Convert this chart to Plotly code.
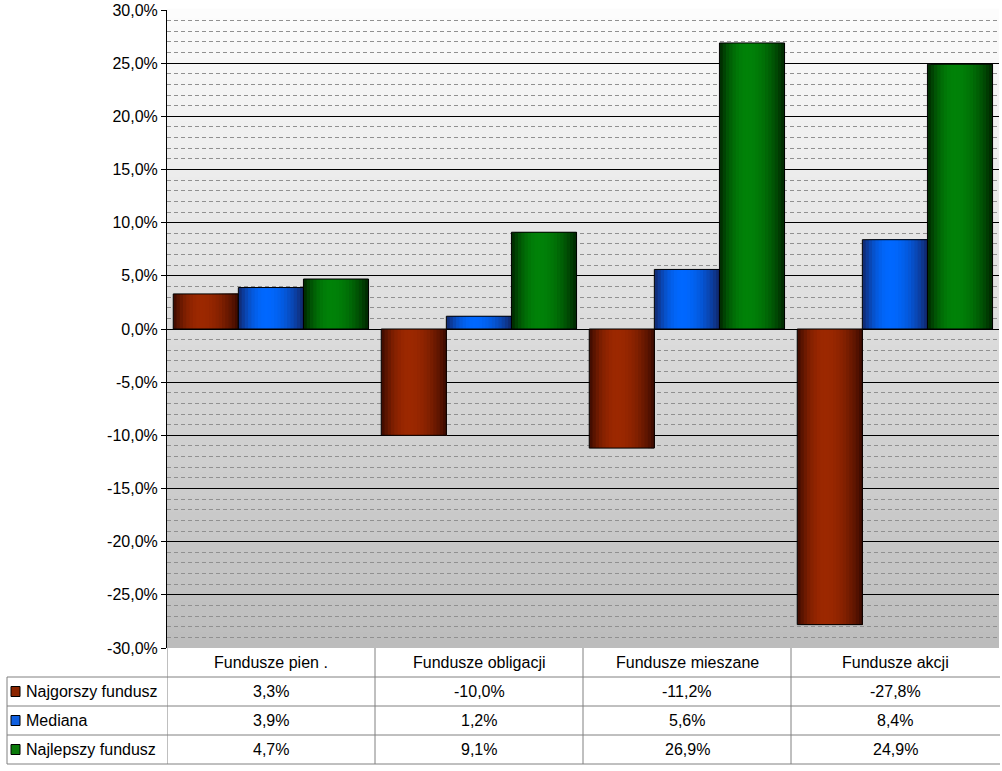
import plotly.graph_objects as go

categories = ["Fundusze pien .", "Fundusze obligacji", "Fundusze mieszane", "Fundusze akcji"]
series_names = ["Najgorszy fundusz", "Mediana", "Najlepszy fundusz"]
najgorszy = [3.3, -10.0, -11.2, -27.8]
mediana = [3.9, 1.2, 5.6, 8.4]
najlepszy = [4.7, 9.1, 26.9, 24.9]
series_values = [najgorszy, mediana, najlepszy]
tick_values = list(range(-30, 31, 5))
tick_labels = [("%.1f%%" % v).replace(".", ",") for v in tick_values]

# colours: (edge, centre)
series_colors = [
    ((58, 10, 0), (156, 40, 0)),
    ((18, 38, 105), (0, 104, 255)),
    ((0, 36, 0), (0, 130, 8)),
]
legend_colors = ["#8b2500", "#1060e0", "#0a7a0a"]

W, H = 1002, 771
L, R, T, B = 167, 3, 10, 123

fig = go.Figure()
x_idx = list(range(len(categories)))

bar_w = 0.313
start = -0.47
S = 20


def mix(a, b, f):
    return "rgb(%d,%d,%d)" % tuple(round(a[i] + (b[i] - a[i]) * f) for i in range(3))


def profile(t):
    p = 0.42
    if t < p:
        u = t / p
        return 1 - (1 - u) ** 2
    u = (t - p) / (1 - p)
    return 1 - u ** 2


for si, vals in enumerate(series_values):
    edge, centre = series_colors[si]
    base = start + si * bar_w
    for k in range(S):
        t = (k + 0.5) / S
        fig.add_trace(go.Bar(
            x=x_idx, y=vals,
            offset=base + k * bar_w / S, width=bar_w - k * bar_w / S,
            marker=dict(color=mix(edge, centre, profile(t)), line=dict(width=0)),
            showlegend=False, hoverinfo="skip",
        ))
    fig.add_trace(go.Bar(
        x=x_idx, y=vals, offset=base, width=bar_w, name=series_names[si],
        marker=dict(color="rgba(0,0,0,0)", line=dict(color="black", width=1)),
        showlegend=False,
    ))

shapes = []
# background gradient
N = 80
top_c = (252, 252, 252)
bot_c = (188, 188, 188)
for i in range(N):
    shapes.append(dict(type="rect", xref="x domain", yref="y domain",
                       x0=0, x1=1, y0=i / N, y1=(i + 1) / N + 0.002,
                       fillcolor=mix(bot_c, top_c, (i + 0.5) / N),
                       line=dict(width=0), layer="below"))

row_h = 29
grid_col = "#808080"
# table horizontal lines
for r in range(1, 5):
    shapes.append(dict(type="line", xref="paper", yref="paper",
                       xsizemode="pixel", ysizemode="pixel", xanchor=0, yanchor=0,
                       x0=-160, x1=833, y0=-r * row_h, y1=-r * row_h,
                       line=dict(color=grid_col, width=1)))
# left border of legend column
shapes.append(dict(type="line", xref="paper", yref="paper",
                   xsizemode="pixel", ysizemode="pixel", xanchor=0, yanchor=0,
                   x0=-160, x1=-160, y0=-row_h, y1=-4 * row_h,
                   line=dict(color=grid_col, width=1)))
# column separators
for xv in [-0.5, 0.5, 1.5, 2.5]:
    shapes.append(dict(type="line", xref="x", yref="paper",
                       ysizemode="pixel", yanchor=0,
                       x0=xv, x1=xv, y0=0, y1=-4 * row_h,
                       line=dict(color=grid_col, width=1)))
# legend keys
for si in range(3):
    yc = -(si + 1.5) * row_h
    shapes.append(dict(type="rect", xref="paper", yref="paper",
                       xsizemode="pixel", ysizemode="pixel", xanchor=0, yanchor=0,
                       x0=-156, x1=-147, y0=yc - 5, y1=yc + 5,
                       fillcolor=legend_colors[si], line=dict(color="black", width=1)))

annotations = []
font = dict(family="Liberation Sans, Arial", size=16, color="black")
for ci, c in enumerate(categories):
    annotations.append(dict(x=ci, xref="x", y=0, yref="paper", yshift=-0.5 * row_h,
                            text=c, showarrow=False, font=font,
                            xanchor="center", yanchor="middle"))
for si, vals in enumerate(series_values):
    ys = -(si + 1.5) * row_h
    annotations.append(dict(x=0, xref="paper", xshift=-143, y=0, yref="paper", yshift=ys,
                            text=series_names[si], showarrow=False, font=font,
                            xanchor="left", yanchor="middle"))
    for ci, v in enumerate(vals):
        annotations.append(dict(x=ci, xref="x", y=0, yref="paper", yshift=ys,
                                text=("%.1f%%" % v).replace(".", ","), showarrow=False, font=font,
                                xanchor="center", yanchor="middle"))

fig.update_layout(
    width=W, height=H,
    margin=dict(l=L, r=R, t=T, b=B, pad=0),
    paper_bgcolor="white", plot_bgcolor="rgba(0,0,0,0)",
    barmode="overlay",
    shapes=shapes, annotations=annotations,
    font=font,
)
fig.update_xaxes(range=[-0.5, 3.5], showticklabels=False, showgrid=False, zeroline=False,
                 showline=False, ticks="")
fig.update_yaxes(range=[-30, 30], tickmode="array", tickvals=tick_values, ticktext=tick_labels,
                 showgrid=True, gridcolor="black", gridwidth=1, zeroline=True, zerolinecolor="black",
                 zerolinewidth=1,
                 showline=True, linecolor="black", linewidth=1, ticks="outside", ticklen=5,
                 tickcolor="black", tickfont=font,
                 minor=dict(dtick=1, showgrid=True, gridcolor="#909090", griddash="4px,3px", gridwidth=1))

fig.write_html("out.html")
